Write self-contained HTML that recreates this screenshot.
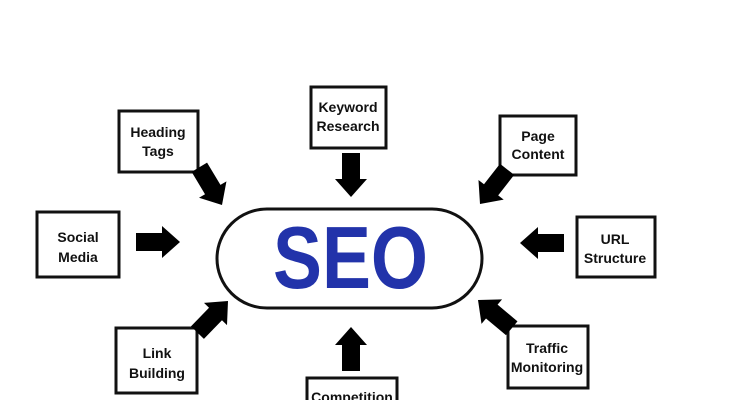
<!DOCTYPE html>
<html><head><style>
html,body{margin:0;padding:0;background:#fff;}
svg{display:block;}
text{font-family:"Liberation Sans",sans-serif;font-weight:bold;fill:#111;}
</style></head><body>
<svg width="750" height="400" viewBox="0 0 750 400">
<defs>
<polygon id="ar" points="0,0 -18,-16 -18,-9 -44,-9 -44,9 -18,9 -18,16" fill="#000"/>
</defs>
<g fill="#fff" stroke="#111" stroke-width="3">
<rect x="119" y="111" width="79" height="61"/>
<rect x="311" y="87" width="75" height="61"/>
<rect x="37" y="212" width="82" height="65"/>
<rect x="116" y="328" width="81" height="65"/>
<rect x="307" y="378" width="90" height="40"/>
<rect x="500" y="116" width="76" height="59"/>
<rect x="577" y="217" width="78" height="60"/>
<rect x="508" y="326" width="80" height="62"/>
<rect x="217" y="209" width="265" height="99" rx="50" ry="50"/>
</g>
<text x="273" y="288" font-size="88" textLength="155" lengthAdjust="spacingAndGlyphs" style="fill:#2233aa;font-weight:bold">SEO</text>
<g font-size="14" text-anchor="middle">
<text x="158" y="137">Heading</text><text x="158" y="156">Tags</text>
<text x="348" y="112">Keyword</text><text x="348" y="131">Research</text>
<text x="78" y="242">Social</text><text x="78" y="262">Media</text>
<text x="157" y="358">Link</text><text x="157" y="378">Building</text>
<text x="352" y="402">Competition</text>
<text x="538" y="141">Page</text><text x="538" y="159">Content</text>
<text x="615" y="244">URL</text><text x="615" y="263">Structure</text>
<text x="547" y="353">Traffic</text><text x="547" y="372">Monitoring</text>
</g>
<use href="#ar" transform="translate(222,205) rotate(59)"/>
<use href="#ar" transform="translate(480,204) rotate(128)"/>
<use href="#ar" transform="translate(228,301) rotate(-46)"/>
<use href="#ar" transform="translate(478,300) rotate(220)"/>
<use href="#ar" transform="translate(351,197) rotate(90)"/>
<use href="#ar" transform="translate(351,327) rotate(-90)"/>
<use href="#ar" transform="translate(180,242)"/>
<use href="#ar" transform="translate(520,243) rotate(180)"/>
</svg>
</body></html>
